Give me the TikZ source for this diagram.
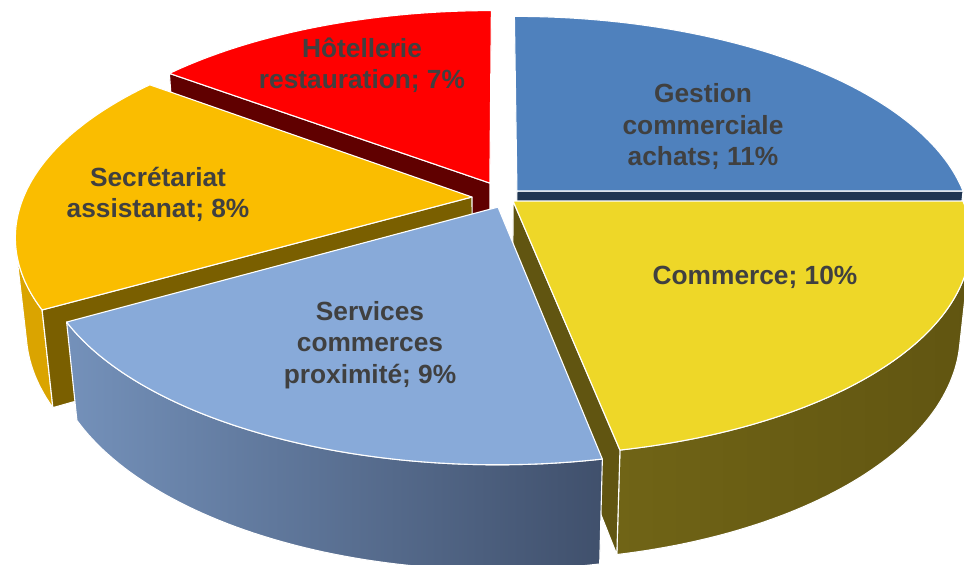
\documentclass[tikz,border=0pt]{standalone}
\usepackage{fontspec}
\setmainfont{Liberation Sans}
\definecolor{lbl}{RGB}{64,64,64}
\definecolor{gesTop}{RGB}{79,129,189}
\definecolor{gesSide}{RGB}{31,53,82}
\definecolor{comTop}{RGB}{238,215,40}
\definecolor{comSide}{RGB}{97,85,17}
\definecolor{comSideL}{RGB}{112,100,22}
\definecolor{serTop}{RGB}{136,170,217}
\definecolor{serSideL}{RGB}{116,145,186}
\definecolor{serSideR}{RGB}{64,80,108}
\definecolor{secTop}{RGB}{250,189,0}
\definecolor{secOuter}{RGB}{218,164,0}
\definecolor{secSide}{RGB}{122,95,0}
\definecolor{hotTop}{RGB}{255,0,0}
\definecolor{hotSide}{RGB}{96,0,0}
\tikzset{
  declare function={
    dq(\qu,\qv,\qz)=1+0.178*\qv-0.093*\qz;
    PX(\qu,\qv,\qz)=500+448*\qu/dq(\qu,\qv,\qz);
    PY(\qu,\qv,\qz)=196-448*(0.463*\qv+0.886*\qz)/dq(\qu,\qv,\qz);
  },
  face/.style={draw=white, line width=1.1pt, line join=round},
  lbltext/.style={text=lbl, font=\fontsize{26.3}{31.5}\selectfont\bfseries, align=center, inner sep=0pt},
}
\newcommand\Htk{-0.236}
\newcommand\pietop[5]{%
  \path[face,#5] ({PX(#1,#2,0)},{PY(#1,#2,0)}) -- plot[variable=\t,domain=#3:#4,samples=80] ({PX(#1+cos(\t),#2+sin(\t),0)},{PY(#1+cos(\t),#2+sin(\t),0)}) -- cycle;}
\newcommand\pieouter[5]{%
  \path[face,#5] plot[variable=\t,domain=#3:#4,samples=60] ({PX(#1+cos(\t),#2+sin(\t),0)},{PY(#1+cos(\t),#2+sin(\t),0)}) -- plot[variable=\t,domain=#4:#3,samples=60] ({PX(#1+cos(\t),#2+sin(\t),\Htk)},{PY(#1+cos(\t),#2+sin(\t),\Htk)}) -- cycle;}
\newcommand\pierad[4]{%
  \path[face,#4] ({PX(#1,#2,0)},{PY(#1,#2,0)}) -- ({PX(#1+cos(#3),#2+sin(#3),0)},{PY(#1+cos(#3),#2+sin(#3),0)}) -- ({PX(#1+cos(#3),#2+sin(#3),\Htk)},{PY(#1+cos(#3),#2+sin(#3),\Htk)}) -- ({PX(#1,#2,\Htk)},{PY(#1,#2,\Htk)}) -- cycle;}
\begin{document}
\begin{tikzpicture}[x=1pt,y=-1pt]
\useasboundingbox (0,0) rectangle (964,565);
\fill[white] (0,0) rectangle (964,565);
\clip (0,0) rectangle (964,565);
% Hotellerie
\pierad{-0.023}{0.063}{143.3}{fill=hotSide}
\pietop{-0.023}{0.063}{90}{143.3}{fill=hotTop}
% Gestion
\pierad{0.038}{0.024}{0}{fill=gesSide}
\pietop{0.038}{0.024}{0}{90}{fill=gesTop}
% Secretariat
\pieouter{-0.0625}{-0.005}{194}{209.7}{fill=secOuter}
\pierad{-0.0625}{-0.005}{209.7}{fill=secSide}
\pietop{-0.0625}{-0.005}{143.3}{209.7}{fill=secTop}
% Commerce
\pieouter{0.029}{-0.024}{-79}{-13.5}{left color=comSideL,right color=comSide}
\pierad{0.029}{-0.024}{-79}{fill=comSide}
\pietop{0.029}{-0.024}{-79}{0}{fill=comTop}
% Services
\pieouter{-0.0044}{-0.053}{-150.3}{-79}{left color=serSideL,right color=serSideR}
\pietop{-0.0044}{-0.053}{-150.3}{-79}{fill=serTop}
% labels
\node[lbltext] (hot) at (362,65) {Hôtellerie\\restauration; 7\%};
\node[lbltext] (ges) at (703,127) {Gestion\\commerciale\\achats; 11\%};
\node[lbltext] (com) at (755,277.5) {Commerce; 10\%};
\node[lbltext] (sec) at (158,194.5) {Secrétariat\\assistanat; 8\%};
\node[lbltext] (ser) at (370,345) {Services\\commerces\\proximité; 9\%};
\end{tikzpicture}
\end{document}
